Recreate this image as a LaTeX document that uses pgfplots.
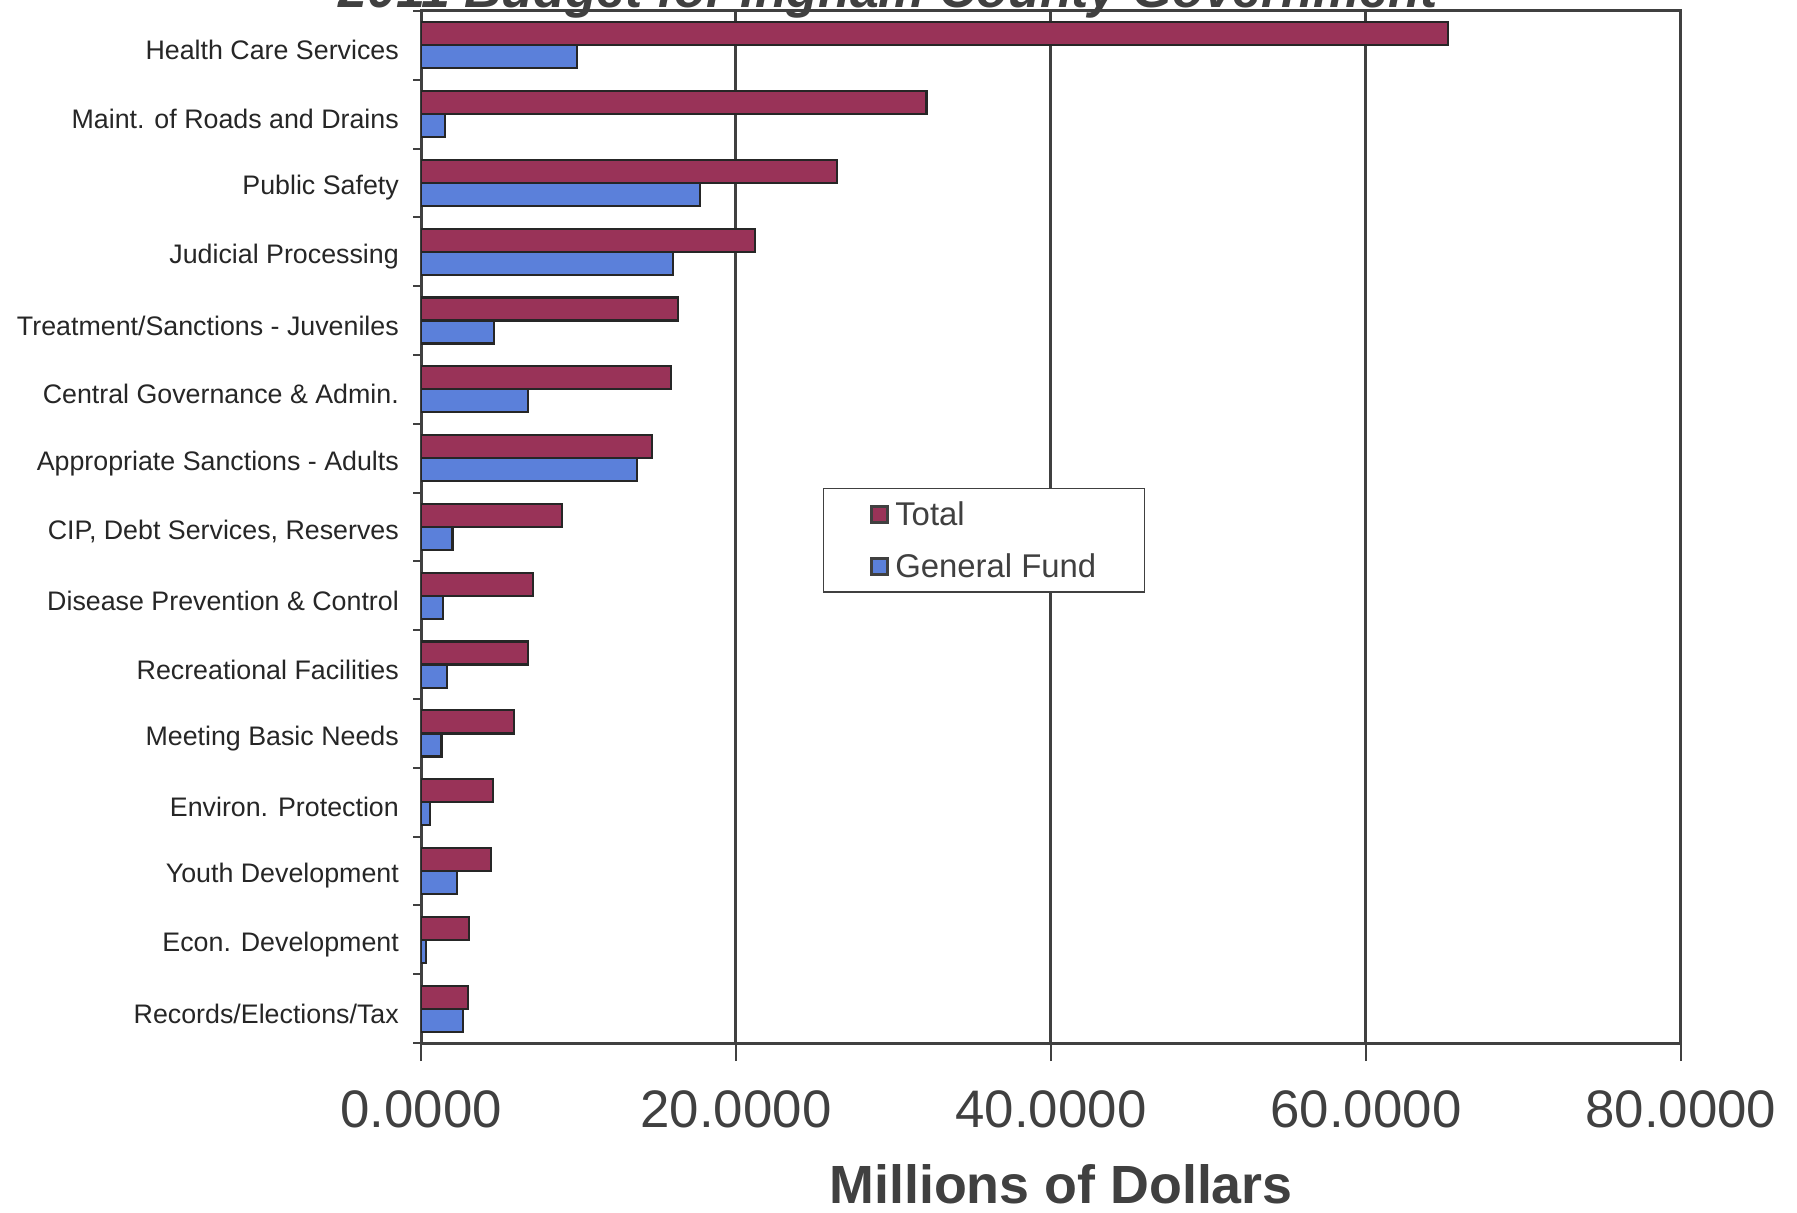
\documentclass[border=0pt]{standalone}
\usepackage{pgfplots}
\pgfplotsset{compat=1.18}
\usepackage{fontspec}
\setmainfont{Liberation Sans}
\definecolor{totc}{HTML}{993358}
\definecolor{gfc}{HTML}{5B80DA}
\definecolor{axc}{HTML}{404040}
\pgfplotstableread{
idx total gf
0  3.00  2.68
1  3.05  0.30
2  4.44  2.27
3  4.55  0.57
4  5.90  1.30
5  6.80  1.66
6  7.10  1.40
7  8.95  2.00
8  14.67 13.70
9  15.85 6.80
10 16.30 4.65
11 21.20 16.00
12 26.40 17.70
13 32.10 1.50
14 65.20 9.90
}\budget
\begin{document}
\begin{tikzpicture}[x=1bp,y=1bp]
\path[use as bounding box] (0,0) rectangle (1797,1212);
\clip (0,0) rectangle (1797,1212);
\node[anchor=base, font=\fontsize{52}{52}\selectfont\bfseries\itshape, text=axc, inner sep=0pt] at (888,1204) {2011 Budget for Ingham County Government};
\begin{axis}[
  at={(421bp,169bp)}, anchor=south west,
  scale only axis, width=1260bp, height=1032bp,
  xbar, bar width=23bp,
  xmin=0, xmax=80,
  ymin=-0.5, ymax=14.5,
  xtick={0,20,40,60,80},
  xticklabels={0.0000,20.0000,40.0000,60.0000,80.0000},
  ytick={0,...,14},
  yticklabels={Records/Elections/Tax, Econ. Development, Youth Development, Environ. Protection, Meeting Basic Needs, Recreational Facilities, Disease Prevention \& Control, {CIP, Debt Services, Reserves}, Appropriate Sanctions - Adults, Central Governance \& Admin., Treatment/Sanctions - Juveniles, Judicial Processing, Public Safety, Maint. of Roads and Drains, Health Care Services},
  minor ytick={-0.5,0.5,...,14.5},
  tick align=outside,
  xtick pos=bottom, ytick pos=left,
  major tick length=18bp, minor tick length=8bp,
  major y tick style={draw=none},
  minor y tick style={axc, line width=2bp},
  major x tick style={axc, line width=2.5bp},
  yticklabel style={font=\fontsize{26.9}{27}\selectfont, text=black!85, anchor=east, inner sep=0pt, xshift=-4bp, yshift=-5bp},
  xticklabel style={font=\fontsize{53}{53}\selectfont, text=axc, anchor=north, inner sep=0pt, yshift=-29bp},
  xmajorgrids, major grid style={axc, line width=3bp},
  axis line style={axc, line width=3bp},
  xlabel={Millions of Dollars},
  xlabel style={font=\fontsize{54}{54}\selectfont\bfseries, text=axc, anchor=center, inner sep=0pt, text depth=0pt, at={(axis description cs:0.508,-0.137)}},
  legend cell align=left,
  legend style={at={(axis description cs:0.319,0.538)}, anchor=north west, draw=axc, line width=1.5bp, font=\fontsize{33}{33}\selectfont, text=axc, inner xsep=46bp, inner ysep=11bp, row sep=23bp},
  legend image code/.code={\draw[#1, draw=axc, line width=3bp] (0bp,-8bp) rectangle (16bp,8bp); \path (21bp,0bp);},
]
\addplot[fill=totc, draw=black!85, line width=2.2bp, bar shift=11.5bp] table[x=total, y=idx] {\budget};
\addplot[fill=gfc, draw=black!85, line width=2.2bp, bar shift=-11.5bp] table[x=gf, y=idx] {\budget};
\legend{Total, General Fund}
\end{axis}
\end{tikzpicture}
\end{document}
